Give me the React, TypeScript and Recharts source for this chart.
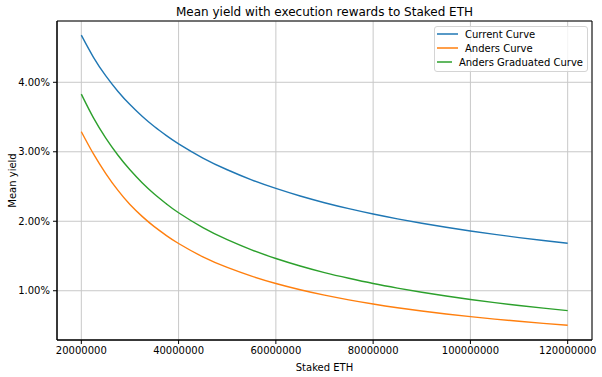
import React from 'react';
import {
  LineChart,
  Line,
  XAxis,
  YAxis,
  CartesianGrid,
  Legend,
  ReferenceArea,
} from 'recharts';

// staked ETH, in millions
const stakedMillions = [
  20, 22.5, 25, 27.5, 30, 32.5, 35, 37.5, 40, 45, 50, 55, 60, 65, 70, 75, 80, 85, 90, 95,
  100, 105, 110, 115, 120,
];

// mean yield, percent
const currentCurve = [
  4.679, 4.36, 4.096, 3.872, 3.679, 3.511, 3.363, 3.232, 3.114, 2.91, 2.741, 2.596, 2.472,
  2.363, 2.267, 2.181, 2.104, 2.035, 1.971, 1.913, 1.86, 1.811, 1.765, 1.723, 1.683,
];
const andersCurve = [
  3.289, 2.969, 2.69, 2.447, 2.24, 2.07, 1.922, 1.794, 1.68, 1.487, 1.335, 1.21, 1.104,
  1.014, 0.936, 0.869, 0.809, 0.756, 0.709, 0.666, 0.627, 0.592, 0.56, 0.531, 0.504,
];
const gradCurve = [
  3.829, 3.487, 3.2, 2.953, 2.74, 2.554, 2.392, 2.25, 2.122, 1.908, 1.734, 1.588, 1.464,
  1.356, 1.261, 1.179, 1.104, 1.038, 0.978, 0.924, 0.874, 0.829, 0.787, 0.749, 0.714,
];

const xTicks = [20000000, 40000000, 60000000, 80000000, 100000000, 120000000];
const yTicks = [1, 2, 3, 4];

const X_DOMAIN: [number, number] = [15000000, 125000000];
const Y_DOMAIN: [number, number] = [0.291, 4.882];

const series = [
  { key: 'current', name: 'Current Curve', color: '#1f77b4' },
  { key: 'anders', name: 'Anders Curve', color: '#ff7f0e' },
  { key: 'grad', name: 'Anders Graduated Curve', color: '#2ca02c' },
];

const chartData = stakedMillions.map((m, i) => ({
  x: m * 1000000,
  current: currentCurve[i],
  anders: andersCurve[i],
  grad: gradCurve[i],
}));

const FONT = "'DejaVu Sans', sans-serif";
const tickStyle = { fontSize: 10, fill: '#000', fontFamily: FONT };

function LegendBox() {
  return (
    <div
      style={{
        width: 154,
        boxSizing: 'border-box',
        border: '1px solid #d4d4d4',
        borderRadius: 3,
        background: 'rgba(255,255,255,0.8)',
        padding: '0 4px 2px 2px',
        fontFamily: FONT,
        fontSize: 10,
        color: '#000',
      }}
    >
      {series.map((s) => (
        <div key={s.key} style={{ display: 'flex', alignItems: 'center', height: 14 }}>
          <svg width={21} height={14} style={{ marginRight: 7 }}>
            <line x1={0} x2={21} y1={7} y2={7} stroke={s.color} strokeWidth={1.5} />
          </svg>
          <span style={{ whiteSpace: 'nowrap' }}>{s.name}</span>
        </div>
      ))}
    </div>
  );
}

export default function App() {
  return (
    <div style={{ position: 'absolute', left: 0, top: 0, width: 602, height: 377, background: '#fff' }}>
      <div
        style={{
          position: 'absolute',
          left: 57,
          width: 535,
          top: 5,
          textAlign: 'center',
          fontFamily: FONT,
          fontSize: 12,
          lineHeight: '14px',
          color: '#000',
        }}
      >
        Mean yield with execution rewards to Staked ETH
      </div>
      <LineChart
        width={602}
        height={377}
        data={chartData}
        margin={{ top: 21, right: 10, left: 0, bottom: 0 }}
      >
        <CartesianGrid stroke="#c8c8c8" strokeWidth={1} />
        <XAxis
          dataKey="x"
          type="number"
          domain={X_DOMAIN}
          ticks={xTicks}
          allowDataOverflow
          height={37}
          tick={tickStyle}
          tickSize={4}
          tickMargin={3}
          tickLine={{ stroke: '#000' }}
          axisLine={{ stroke: '#000' }}
          tickFormatter={(v) => String(v)}
          label={{
            value: 'Staked ETH',
            position: 'insideBottom',
            offset: 6,
            style: { fontSize: 10, fill: '#000', fontFamily: FONT },
          }}
        />
        <YAxis
          type="number"
          domain={Y_DOMAIN}
          ticks={yTicks}
          allowDataOverflow
          width={57}
          tick={tickStyle}
          tickSize={4}
          tickMargin={3}
          tickLine={{ stroke: '#000' }}
          axisLine={{ stroke: '#000' }}
          tickFormatter={(v) => `${Number(v).toFixed(2)}%`}
          label={{
            value: 'Mean yield',
            angle: -90,
            position: 'insideLeft',
            offset: 12,
            style: { fontSize: 10, fill: '#000', fontFamily: FONT, textAnchor: 'middle' },
          }}
        />
        <ReferenceArea
          x1={X_DOMAIN[0]}
          x2={X_DOMAIN[1]}
          y1={Y_DOMAIN[0]}
          y2={Y_DOMAIN[1]}
          fill="none"
          stroke="#000"
          strokeWidth={1}
          ifOverflow="visible"
        />
        {series.map((s) => (
          <Line
            key={s.key}
            dataKey={s.key}
            name={s.name}
            type="natural"
            stroke={s.color}
            strokeWidth={1.4}
            dot={false}
            isAnimationActive={false}
          />
        ))}
        <Legend
          layout="vertical"
          verticalAlign="middle"
          align="center"
          content={() => <LegendBox />}
          wrapperStyle={{ top: 26, left: 434, width: 154 }}
        />
      </LineChart>
    </div>
  );
}
